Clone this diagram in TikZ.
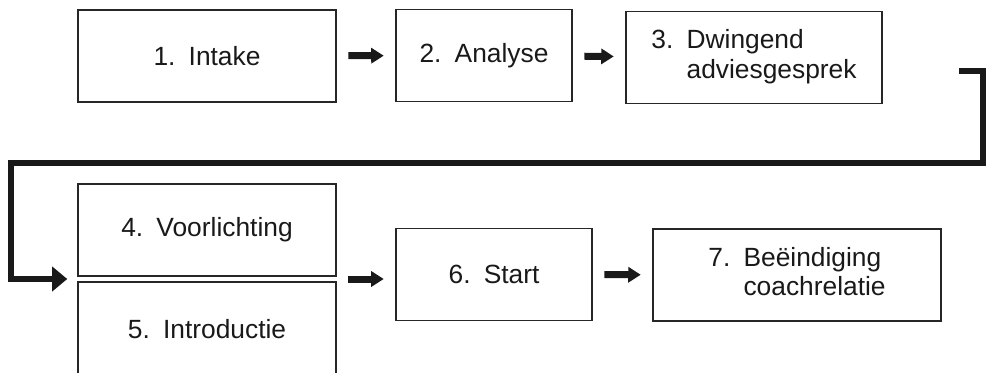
\documentclass[tikz,border=0pt]{standalone}
\usepackage{fontspec}
\setmainfont{Liberation Sans}
\usetikzlibrary{arrows.meta,calc}

\tikzset{
  stap/.style={draw=black!85, line width=0.9pt, minimum height=1.84cm, inner sep=0pt,
    text=black!90, font=\fontsize{15}{17}\selectfont},
  pijl/.style={line width=0.14cm, black!90, -{Triangle[length=0.25cm,width=0.3cm]},
    shorten <=0.23cm, shorten >=0.23cm},
  terug/.style={line width=0.11cm, black!90, -{Triangle[length=0.3cm,width=0.48cm]}}
}
\newcommand{\tweeregels}[3]{\begin{tabular}{@{}l@{\enspace}l@{}}#1 & #2\\ & #3\end{tabular}}

\begin{document}
\begin{tikzpicture}[x=0.02cm, y=-0.02cm]
\useasboundingbox (0,0) rectangle (986,372);

% bovenste rij
\node[stap, minimum width=5.16cm] (intake) at (207,56) {1.\enspace Intake};
\node[stap, minimum width=3.52cm] (analyse) at (484,55.5) {2.\enspace Analyse};
\node[stap, minimum width=5.12cm] (dwingend) at (754,57.5) {\tweeregels{3.}{Dwingend}{adviesgesprek}};

% onderste rij
\node[stap, minimum width=5.16cm] (voorlichting) at (207,230) {4.\enspace Voorlichting};
\node[stap, minimum width=5.16cm, minimum height=1.88cm] (introductie) at (207,329) {5.\enspace Introductie};
\node[stap, minimum width=3.92cm] (start) at (494,274.5) {6.\enspace Start};
\node[stap, minimum width=5.76cm] (einde) at (797,275) {\tweeregels{7.}{Beëindiging}{coachrelatie}};

\coordinate (links) at ($(voorlichting.south west)!0.5!(introductie.north west)$);
\coordinate (rechts) at ($(voorlichting.south east)!0.5!(introductie.north east)$);
\coordinate (uit) at (959,71);

% pijlen
\draw[pijl] (intake) -- (analyse);
\draw[pijl] (analyse) -- (dwingend);
\draw[pijl] (rechts) -- (rechts -| start.west);
\draw[pijl] (start) -- (einde);

% terug naar het begin van de tweede rij
\draw[terug] (uit) -| (983,163) -- (11,163) |- ([xshift=-0.2cm]links);
\end{tikzpicture}
\end{document}
